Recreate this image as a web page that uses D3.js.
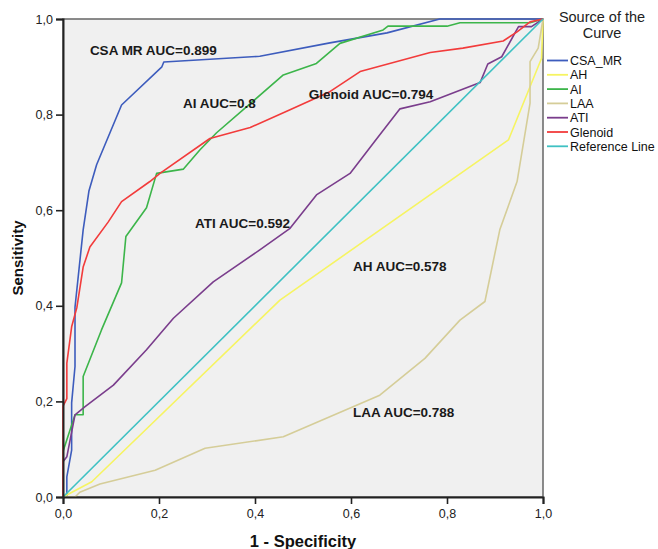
<!DOCTYPE html>
<html><head><meta charset="utf-8">
<script src="https://cdn.jsdelivr.net/npm/d3@7"></script>
<style>
html,body{margin:0;padding:0;background:#fff;}
svg{display:block;font-family:"Liberation Sans",Arial,sans-serif;}
</style></head>
<body>
<svg id="chart" width="658" height="549"></svg>
<script>
// ---- data (1 - specificity, sensitivity) ----
const seriesNames = ["CSA_MR","AH","AI","LAA","ATI","Glenoid","Reference Line"];
const csaMR = [[0,0],[0.008,0],[0.008,0.042],[0.018,0.098],[0.018,0.197],[0.025,0.273],[0.025,0.397],[0.042,0.559],[0.054,0.64],[0.07,0.695],[0.122,0.82],[0.206,0.9],[0.21,0.91],[0.41,0.922],[0.556,0.95],[0.675,0.971],[0.785,1],[1,1]];
const ah = [[0,0],[0.06,0.032],[0.452,0.412],[0.928,0.747],[0.997,0.918],[1,1]];
const ai = [[0,0],[0,0.095],[0.025,0.172],[0.042,0.172],[0.042,0.252],[0.08,0.349],[0.122,0.448],[0.131,0.545],[0.174,0.605],[0.195,0.677],[0.251,0.686],[0.285,0.726],[0.32,0.762],[0.459,0.883],[0.528,0.907],[0.577,0.949],[0.667,0.977],[0.677,0.985],[0.8,0.985],[0.827,0.992],[0.973,0.992],[1,1]];
const laa = [[0,0],[0.025,0],[0.035,0.01],[0.077,0.027],[0.192,0.056],[0.296,0.102],[0.459,0.126],[0.66,0.213],[0.754,0.29],[0.827,0.37],[0.879,0.409],[0.91,0.559],[0.946,0.66],[0.973,0.824],[0.973,0.911],[0.99,0.939],[1,1]];
const ati = [[0,0],[0,0.074],[0.008,0.084],[0.025,0.172],[0.046,0.189],[0.105,0.234],[0.174,0.308],[0.23,0.374],[0.313,0.45],[0.41,0.517],[0.473,0.562],[0.528,0.632],[0.598,0.677],[0.654,0.75],[0.702,0.812],[0.765,0.827],[0.869,0.867],[0.885,0.906],[0.914,0.921],[0.949,0.984],[0.976,0.984],[1,1]];
const glenoid = [[0,0],[0,0.19],[0.008,0.206],[0.008,0.28],[0.018,0.356],[0.029,0.397],[0.042,0.481],[0.056,0.523],[0.094,0.575],[0.122,0.618],[0.181,0.66],[0.202,0.677],[0.306,0.75],[0.39,0.773],[0.473,0.81],[0.556,0.848],[0.619,0.89],[0.765,0.93],[0.833,0.939],[0.917,0.954],[0.946,0.973],[0.973,0.994],[1,1]];
const referenceLine = [[0,0],[1,1]];
const tickValues = [0,0.2,0.4,0.6,0.8,1.0];
const aucLabels = ["CSA MR AUC=0.899","AI AUC=0.8","Glenoid AUC=0.794","ATI AUC=0.592","AH AUC=0.578","LAA AUC=0.788"];

// ---- layout / style ----
const colors = ["#3d5cbd","#f6f462","#3cb54a","#d5cd98","#7a3d8c","#f23b3b","#3fc1c3"];
const allSeries = [csaMR, ah, ai, laa, ati, glenoid, referenceLine];
// label anchor positions in data space (start x, centre y)
const labelPos = [[0.056,0.935],[0.25,0.824],[0.512,0.843],[0.275,0.573],[0.604,0.483],[0.604,0.178]];

const svg = d3.select("#chart");
const x = d3.scaleLinear().domain([0,1]).range([63,543]);
const y = d3.scaleLinear().domain([0,1]).range([497,19]);
const fmt = d => d3.format(".1f")(d).replace(".", ",");

// plot background + frame
svg.append("rect").attr("x",x(0)).attr("y",y(1)).attr("width",x(1)-x(0)).attr("height",y(0)-y(1))
  .attr("fill","#f0f0f0").attr("stroke","#666").attr("stroke-width",1.5);

// lines
const line = d3.line().x(d=>x(d[0])).y(d=>y(d[1]));
const g = svg.append("g");
allSeries.forEach((s,i)=>{
  g.append("path").datum(s).attr("d",line).attr("fill","none")
    .attr("stroke",colors[i]).attr("stroke-width",1.6).attr("stroke-linejoin","round");
});

// axes
const yAxis = d3.axisLeft(y).tickValues(tickValues).tickFormat(fmt).tickSize(7).tickPadding(3);
const xAxis = d3.axisBottom(x).tickValues(tickValues).tickFormat(fmt).tickSize(7).tickPadding(5);
const ya = svg.append("g").attr("transform",`translate(${x(0)},0)`).call(yAxis);
const xa = svg.append("g").attr("transform",`translate(0,${y(0)})`).call(xAxis);
[ya,xa].forEach(a=>{
  a.select(".domain").attr("stroke","#222").attr("stroke-width",2);
  a.selectAll(".tick line").attr("stroke","#222").attr("stroke-width",1.6);
  a.selectAll(".tick text").attr("fill","#222").style("font-size","12.5px")
   .style("font-family","'Liberation Sans',Arial,sans-serif");
});

// axis titles
svg.append("text").attr("x",(x(0)+x(1))/2).attr("y",547).attr("text-anchor","middle")
  .style("font-size","16.5px").style("font-weight","bold").attr("fill","#111").text("1 - Specificity");
svg.append("text").attr("transform",`translate(23,${(y(0)+y(1))/2}) rotate(-90)`).attr("text-anchor","middle")
  .style("font-size","15px").style("font-weight","bold").attr("fill","#111").text("Sensitivity");

// AUC annotations
aucLabels.forEach((t,i)=>{
  svg.append("text").attr("x",x(labelPos[i][0])).attr("y",y(labelPos[i][1])).attr("dy","0.36em")
    .style("font-size","13.5px").style("font-weight","bold").attr("fill","#1a1a1a").text(t);
});

// legend
const lg = svg.append("g");
lg.append("text").attr("x",602).attr("y",22).attr("text-anchor","middle").style("font-size","14.5px").attr("fill","#222").text("Source of the");
lg.append("text").attr("x",602).attr("y",38).attr("text-anchor","middle").style("font-size","14.5px").attr("fill","#222").text("Curve");
seriesNames.forEach((n,i)=>{
  const yy = 60.5 + i*14.3;
  lg.append("line").attr("x1",547).attr("x2",568).attr("y1",yy).attr("y2",yy).attr("stroke",colors[i]).attr("stroke-width",1.8);
  lg.append("text").attr("x",570).attr("y",yy).attr("dy","0.36em").style("font-size","12.5px").attr("fill","#111").text(n);
});
</script>
</body></html>
